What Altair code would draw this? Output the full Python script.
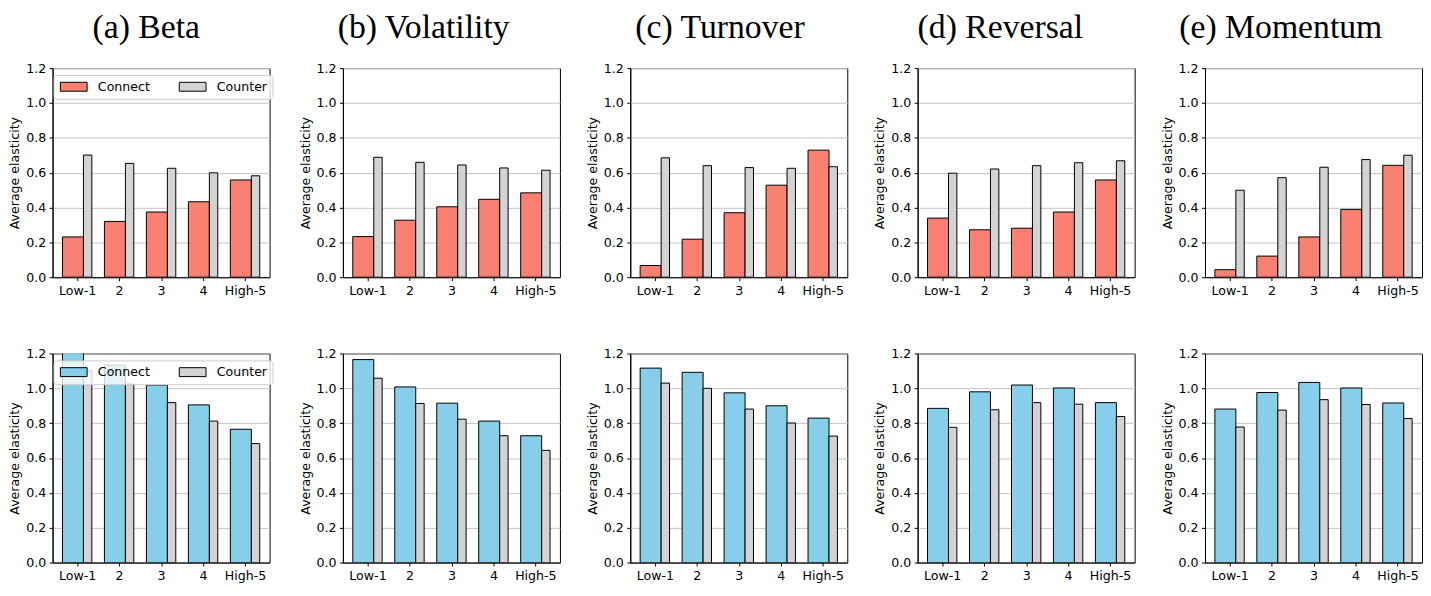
import json
import altair as alt
import pandas as pd

groups = ["Low-1", "2", "3", "4", "High-5"]
panel_titles = ["(a) Beta", "(b) Volatility", "(c) Turnover", "(d) Reversal", "(e) Momentum"]
series_names = ["Connect", "Counter"]

# top row (salmon)
top_connect_beta = [0.231, 0.320, 0.374, 0.433, 0.558]
top_counter_beta = [0.701, 0.653, 0.625, 0.599, 0.582]
top_connect_vol = [0.233, 0.327, 0.404, 0.447, 0.484]
top_counter_vol = [0.688, 0.659, 0.644, 0.627, 0.614]
top_connect_turn = [0.067, 0.218, 0.370, 0.528, 0.729]
top_counter_turn = [0.685, 0.640, 0.629, 0.625, 0.634]
top_connect_rev = [0.339, 0.272, 0.281, 0.374, 0.558]
top_counter_rev = [0.597, 0.621, 0.640, 0.657, 0.668]
top_connect_mom = [0.043, 0.121, 0.231, 0.389, 0.642]
top_counter_mom = [0.499, 0.571, 0.631, 0.675, 0.700]

# bottom row (sky blue)
bot_connect_beta = [1.25, 1.133, 1.019, 0.905, 0.765]
bot_counter_beta = [1.101, 1.025, 0.918, 0.812, 0.683]
bot_connect_vol = [1.165, 1.008, 0.915, 0.812, 0.728]
bot_counter_vol = [1.058, 0.913, 0.823, 0.728, 0.644]
bot_connect_turn = [1.116, 1.092, 0.974, 0.900, 0.829]
bot_counter_turn = [1.030, 1.000, 0.881, 0.801, 0.726]
bot_connect_rev = [0.885, 0.980, 1.019, 1.002, 0.918]
bot_counter_rev = [0.776, 0.877, 0.918, 0.909, 0.838]
bot_connect_mom = [0.881, 0.976, 1.034, 1.002, 0.916]
bot_counter_mom = [0.778, 0.875, 0.935, 0.907, 0.827]

top_pairs = [(top_connect_beta, top_counter_beta), (top_connect_vol, top_counter_vol),
             (top_connect_turn, top_counter_turn), (top_connect_rev, top_counter_rev),
             (top_connect_mom, top_counter_mom)]
bot_pairs = [(bot_connect_beta, bot_counter_beta), (bot_connect_vol, bot_counter_vol),
             (bot_connect_turn, bot_counter_turn), (bot_connect_rev, bot_counter_rev),
             (bot_connect_mom, bot_counter_mom)]

SALMON = "#FA8072"
SKY = "#87CEEB"
GRAY = "#D3D3D3"
FONT = "DejaVu Sans"
FS = 12.7
title_dx = [-15, -28, -19, -26, -33]

label_expr = json.dumps(groups) + "[datum.value]"


def make_df(conn, cnt):
    rows = []
    for i, g in enumerate(groups):
        rows.append({"group": g, "idx": i, "series": "Connect", "value": conn[i]})
        rows.append({"group": g, "idx": i, "series": "Counter", "value": cnt[i]})
    return pd.DataFrame(rows)


def panel(df, color, title=None, dx=0, legend=False):
    leg = None
    if legend:
        leg = alt.Legend(
            title=None, orient="none", legendX=1, legendY=7, columns=2,
            direction="horizontal", columnPadding=26,
            symbolType="M-1,-1H5V1H-1Z", symbolSize=81,
            symbolStrokeColor="black", symbolStrokeWidth=1, symbolOpacity=1,
            labelFont=FONT, labelFontSize=FS, labelColor="black", labelOffset=27,
            fillColor="rgba(255,255,255,0.8)", strokeColor="#cccccc",
            cornerRadius=3, padding=5, labelLimit=200,
        )
    ch = alt.Chart(df).transform_calculate(
        x0="datum.series == 'Connect' ? datum.idx - 0.35 : datum.idx + 0.15",
        x1="datum.series == 'Connect' ? datum.idx + 0.15 : datum.idx + 0.35",
    ).mark_bar(stroke="black", strokeWidth=1, clip=True, opacity=1).encode(
        x=alt.X("x0:Q",
                scale=alt.Scale(domain=[-0.585, 4.585], nice=False, zero=False, padding=0),
                axis=alt.Axis(values=[0, 1, 2, 3, 4], labelExpr=label_expr,
                              grid=False, title=None)),
        x2="x1:Q",
        y=alt.Y("value:Q",
                scale=alt.Scale(domain=[0, 1.2], nice=False, padding=0),
                axis=alt.Axis(values=[0, 0.2, 0.4, 0.6, 0.8, 1.0, 1.2], format=".1f",
                              grid=True, title="Average elasticity", titlePadding=4)),
        y2=alt.datum(0),
        color=alt.Color("series:N", scale=alt.Scale(domain=series_names, range=[color, GRAY]),
                        legend=leg),
    )
    props = dict(width=219, height=211)
    if title:
        props["title"] = alt.TitleParams(
            text=title, font="Liberation Serif", fontSize=34, fontWeight="normal",
            color="black", anchor="middle", frame="group", dx=dx, offset=17,
        )
    return ch.properties(**props)


top = [panel(make_df(c, k), SALMON, panel_titles[i], title_dx[i], legend=(i == 0))
       for i, (c, k) in enumerate(top_pairs)]
bot = [panel(make_df(c, k), SKY, legend=(i == 0)) for i, (c, k) in enumerate(bot_pairs)]

row1 = alt.hconcat(*top, spacing=25).resolve_scale(color="independent")
row2 = alt.hconcat(*bot, spacing=25).resolve_scale(color="independent")

chart = alt.vconcat(row1, row2, spacing=49).resolve_scale(color="independent").properties(
    padding={"left": 0, "top": 0, "right": 0, "bottom": 0},
    background="white",
).configure_view(
    stroke="black", strokeWidth=1
).configure_axis(
    labelFont=FONT, labelFontSize=FS, labelColor="black",
    titleFont=FONT, titleFontSize=FS, titleFontWeight="normal", titleColor="black",
    tickColor="black", tickSize=3.5, labelPadding=3.5,
    domainColor="black", gridColor="#c4c4c4", gridWidth=1,
)

chart.save("out.html", embed_options={"renderer": "svg", "actions": False})
